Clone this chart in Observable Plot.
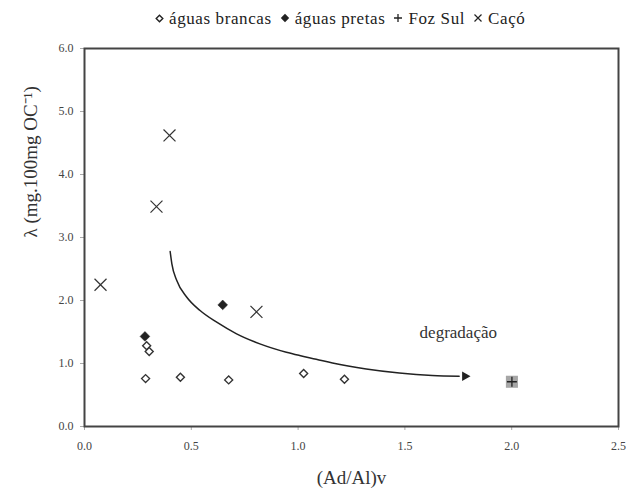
<!DOCTYPE html>
<html><head><meta charset="utf-8">
<script src="https://cdn.jsdelivr.net/npm/d3@7"></script>
<script src="https://cdn.jsdelivr.net/npm/@observablehq/plot@0.6"></script>
<style>
body{margin:0;background:#fff;font-family:"Liberation Serif","Times New Roman",serif;color:#333;}
#legend{height:36px;line-height:37px;font-size:17px;letter-spacing:0.6px;text-align:left;padding-left:155px;width:626px;box-sizing:border-box;white-space:nowrap;font-family:"Liberation Serif","Times New Roman",serif;color:#222;}
#legend svg{vertical-align:middle;position:relative;top:-2px;margin:0 5px 0 0;}
#legend .item{margin-right:8px;}
</style></head>
<body>
<div id="legend"></div>
<div id="chart"></div>
<script>
// data
const brancasX = [0.291, 0.303, 0.286, 0.449, 0.675, 1.026, 1.217];
const brancasY = [1.28, 1.19, 0.76, 0.78, 0.74, 0.84, 0.75];
const pretasX = [0.283, 0.647];
const pretasY = [1.43, 1.93];
const fozX = [2.001];
const fozY = [0.71];
const cacoX = [0.075, 0.398, 0.337, 0.805];
const cacoY = [2.25, 4.62, 3.49, 1.82];
const xTicks = [0, 0.5, 1, 1.5, 2, 2.5];
const yTicks = [0, 1, 2, 3, 4, 5, 6];
const seriesNames = ["águas brancas", "águas pretas", "Foz Sul", "Caçó"];
// annotation curve ("degradação")
const arrowX = [0.401, 0.409, 0.432, 0.479, 0.541, 0.619, 0.712, 0.821, 0.945, 1.007, 1.085, 1.161, 1.319, 1.474, 1.628, 1.754];
const arrowY = [2.778, 2.583, 2.317, 2.052, 1.841, 1.655, 1.471, 1.312, 1.179, 1.127, 1.068, 1.008, 0.913, 0.849, 0.810, 0.798];
const arrowHead = [{x: 1.781, y: 0.798}];
const annot = [{x: 1.75, y: 1.49, text: "degradação"}];

const zip = (xs, ys) => xs.map((x, i) => ({x, y: ys[i]}));
const brancas = zip(brancasX, brancasY);
const pretas = zip(pretasX, pretasY);
const foz = zip(fozX, fozY);
const caco = zip(cacoX, cacoY);
const arrow = zip(arrowX, arrowY);

const ink = "#333";
const serif = '"Liberation Serif","Times New Roman",serif';

// legend
const legendSymbols = [
  '<svg width="9" height="9" viewBox="-4.5 -4.5 9 9"><path d="M0,-3.3L3.3,0L0,3.3L-3.3,0Z" fill="none" stroke="#222" stroke-width="1.4"/></svg>',
  '<svg width="10" height="10" viewBox="-5 -5 10 10"><path d="M0,-4.2L4.2,0L0,4.2L-4.2,0Z" fill="#222"/></svg>',
  '<svg width="10" height="10" viewBox="-5 -5 10 10"><path d="M0,-4V4M-4,0H4" stroke="#222" stroke-width="1.3"/></svg>',
  '<svg width="10" height="10" viewBox="-5 -5 10 10"><path d="M-3.5,-3.5L3.5,3.5M-3.5,3.5L3.5,-3.5" stroke="#222" stroke-width="1.2"/></svg>'
];
document.getElementById("legend").innerHTML =
  seriesNames.map((n, i) => '<span class="item">' + legendSymbols[i] + n + '</span>').join("");

const plot = Plot.plot({
  width: 626,
  height: 461,
  marginLeft: 84,
  marginRight: 8,
  marginTop: 12,
  marginBottom: 71,
  style: {fontFamily: serif, color: ink, background: "#fff"},
  x: {domain: [0, 2.5]},
  y: {domain: [0, 6]},
  marks: [
    Plot.axisX({ticks: xTicks, tickFormat: d3.format(".1f"), tickSize: 4, tickPadding: 11, fontSize: 12, fontFamily: serif, fill: "#444", label: null, stroke: "#aaa"}),
    Plot.axisY({ticks: yTicks, tickFormat: d3.format(".1f"), tickSize: 4, tickPadding: 7, fontSize: 12, fontFamily: serif, fill: "#444", label: null, stroke: "#aaa"}),
    Plot.frame({stroke: "#444", strokeWidth: 2}),
    Plot.line(arrow, {x: "x", y: "y", curve: "monotone-x", stroke: "#222", strokeWidth: 1.5}),
    Plot.dot(arrowHead, {x: "x", y: "y", symbol: "triangle", rotate: 90, r: 3.6, fill: "#222", stroke: "none"}),
    Plot.text(annot, {x: "x", y: "y", text: "text", fontSize: 17, fontFamily: serif, fill: ink}),
    Plot.dot(brancas, {x: "x", y: "y", symbol: "diamond2", r: 3.6, stroke: "#333", strokeWidth: 1.4, fill: "white"}),
    Plot.dot(pretas, {x: "x", y: "y", symbol: "diamond2", r: 4.4, fill: "#222", stroke: "#222", strokeWidth: 0.5}),
    Plot.dot(foz, {x: "x", y: "y", symbol: "square", r: 6.8, fill: "#a6a6a6", stroke: "none"}),
    Plot.dot(foz, {x: "x", y: "y", symbol: "plus", r: 3.3, stroke: "#222", strokeWidth: 1.3}),
    Plot.dot(caco, {x: "x", y: "y", symbol: "times", r: 5.5, stroke: "#333", strokeWidth: 1.2}),
    Plot.text(["λ (mg.100mg OC⁻¹)"], {frameAnchor: "left", dx: -54, rotate: -90, fontSize: 19, fontFamily: serif, fill: ink}),
    Plot.text(["(Ad/Al)v"], {frameAnchor: "bottom", dy: 57, fontSize: 19, fontFamily: serif, fill: ink})
  ]
});
document.getElementById("chart").appendChild(plot);
</script>
</body></html>
